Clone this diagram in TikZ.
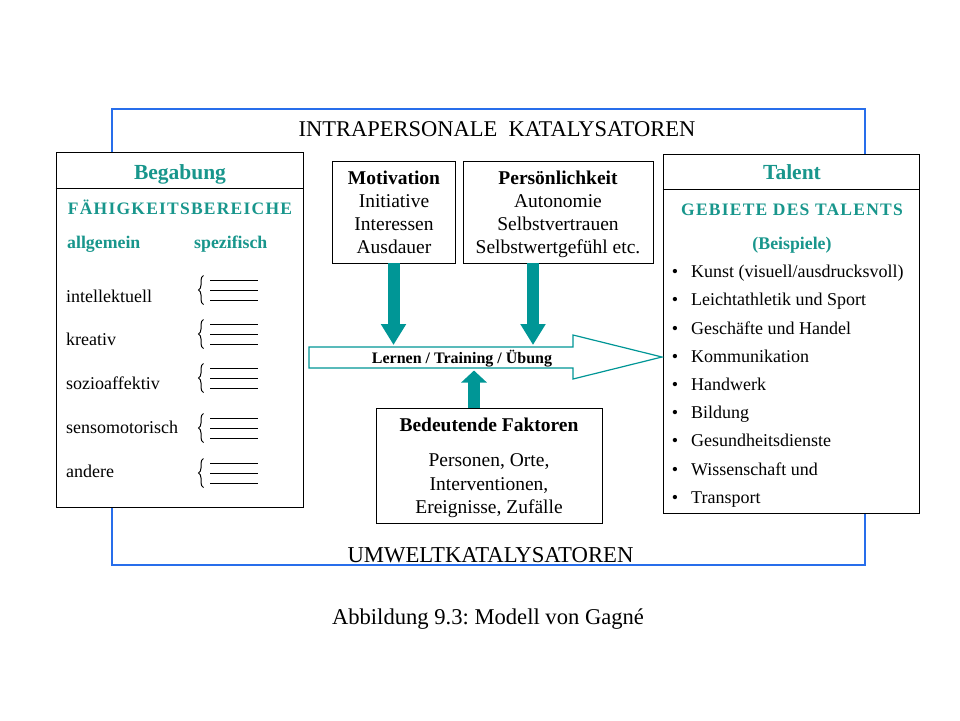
\documentclass[tikz,border=0pt]{standalone}
\usepackage{fontspec}
\setmainfont{Liberation Serif}
\usetikzlibrary{arrows.meta,decorations.pathreplacing}

\definecolor{gagneteal}{RGB}{24,150,140}
\definecolor{flowteal}{RGB}{0,150,150}
\definecolor{frameblue}{RGB}{40,110,235}

\newcommand{\gfs}[1]{\fontsize{#1}{#1}\selectfont}

\tikzset{
  box/.style={draw, line width=0.9pt, fill=white, inner sep=0pt},
  txt/.style={inner sep=0pt, anchor=base, font=\gfs{19.5}},
  boldtxt/.style={txt, font=\bfseries\gfs{19.5}},
  head/.style={txt, text=gagneteal, font=\bfseries\gfs{21.5}},
  sub/.style={txt, text=gagneteal, font={\bfseries\gfs{17.5}\addfontfeatures{LetterSpace=7}}},
  subcol/.style={txt, text=gagneteal, font=\bfseries\gfs{17.8}},
  item/.style={txt, font=\gfs{18}},
  flow/.style={draw=flowteal, line width=12pt},
  spec/.style={decorate, decoration={brace, amplitude=5pt}, line width=1pt},
}

\begin{document}
\begin{tikzpicture}[x=1pt, y=-1pt, line join=miter]
\useasboundingbox (0,0) rectangle (960,720);

% outer frame
\draw[frameblue, line width=2pt] (112,109) rectangle (865,565);
\node[txt, font=\gfs{22.5}] (intra) at (497,136) {INTRAPERSONALE\ \ KATALYSATOREN};
\node[txt, font=\gfs{22.7}] (umwelt) at (490.5,562) {UMWELTKATALYSATOREN};
\node[txt, font=\gfs{22.6}] (caption) at (488,624) {\frenchspacing Abbildung 9.3: Modell von Gagné};

% boxes
\node[box, minimum width=247pt, minimum height=355pt] (begab) at (179.5,329.5) {};
\node[box, minimum width=256pt, minimum height=359pt] (talent) at (791,333.5) {};
\node[box, minimum width=123pt, minimum height=102pt] (motiv) at (393.5,212) {};
\node[box, minimum width=190pt, minimum height=102pt] (pers) at (558,212) {};
\node[box, minimum width=226pt, minimum height=115pt] (faktor) at (489,465.5) {};
\draw[line width=0.9pt] (begab.west |- 0,188) -- (begab.east |- 0,188);
\draw[line width=0.9pt] (talent.west |- 0,189) -- (talent.east |- 0,189);

% Begabung
\node[head] (begab-t) at (180,179) {Begabung};
\node[sub] (faehig) at (180,214) {FÄHIGKEITSBEREICHE};
\node[subcol, anchor=base west] (allg) at (67,248) {allgemein};
\node[subcol, anchor=base west] (spez) at (194,248) {spezifisch};
\foreach \y/\t [count=\i] in {302/intellektuell, 345/kreativ, 389/sozioaffektiv,
    433/sensomotorisch, 477/andere}
  \node[item, anchor=base west] (ab-\i) at (66,\y) {\t};
\foreach \c in {290,334,378,428,473} {
  \draw[spec] (203.5,\c+14.5) -- (203.5,\c-14.5);
  \foreach \d in {-10,0,10}
    \draw[line width=0.9pt] (210,\c+\d) -- (258,\c+\d);
}

% Talent
\node[head] (talent-t) at (792,179) {Talent};
\node[sub] (gebiet) at (792,215) {GEBIETE DES TALENTS};
\node[subcol] (beisp) at (792,249) {(Beispiele)};
\foreach \t [count=\i from 0] in {Kunst (visuell/ausdrucksvoll), Leichtathletik und Sport,
    Geschäfte und Handel, Kommunikation, Handwerk, Bildung, Gesundheitsdienste,
    Wissenschaft und, Transport} {
  \node[item] (tb-\i) at (675,{277.7+28.2*\i}) {\textbullet};
  \node[item, anchor=base west] (tal-\i) at (691,{277.7+28.2*\i}) {\t};
}

% Motivation / Persoenlichkeit
\node[boldtxt] (motiv-t) at (394,184) {Motivation};
\foreach \t [count=\i] in {Initiative, Interessen, Ausdauer}
  \node[txt] (motiv-\i) at (394,{184+23.3*\i}) {\t};
\node[boldtxt] (pers-t) at (558,184) {Persönlichkeit};
\foreach \t [count=\i] in {Autonomie, Selbstvertrauen, Selbstwertgefühl etc.}
  \node[txt] (pers-\i) at (558,{184+23.3*\i}) {\t};

% Bedeutende Faktoren
\node[boldtxt] (faktor-t) at (489,431.7) {Bedeutende Faktoren};
\foreach \t [count=\i from 0] in {{Personen, Orte,}, {Interventionen,}, {Ereignisse, Zufälle}}
  \node[txt] (faktor-\i) at (489,{466.5+23.5*\i}) {\t};

% Lernen arrow
\draw[flowteal, line width=1.2pt, fill=white]
  (309,347) -- (573,347) -- (573,335) -- (662,357) -- (573,379) -- (573,368) -- (309,368) -- cycle;
\node[txt, font=\bfseries\gfs{16}] (lernen) at (462,363) {Lernen / Training / Übung};
\coordinate (lern-n) at (462,345);
\coordinate (lern-s) at (462,370.5);

% catalysts
\draw[flow, -{Triangle[length=21pt,width=24pt]}] (motiv.south) -- (motiv.south |- lern-n);
\draw[flow, -{Triangle[length=21pt,width=24pt]}] ([xshift=-25pt]pers.south) -- ([xshift=-25pt]pers.south |- lern-n);
\draw[flow, -{Triangle[length=12pt,width=25pt]}] ([xshift=-15pt]faktor.north) -- ([xshift=-15pt]faktor.north |- lern-s);

\end{tikzpicture}
\end{document}
